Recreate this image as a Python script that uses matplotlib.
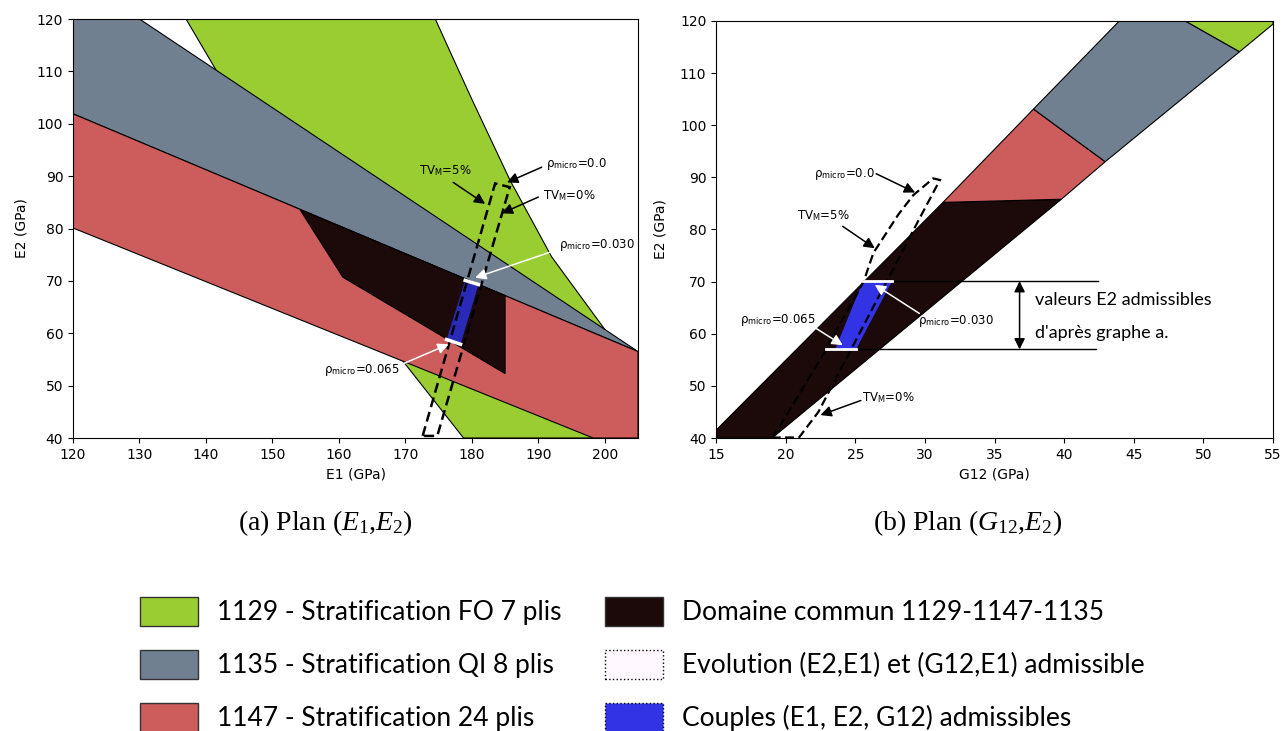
import matplotlib
matplotlib.use('Agg')
import matplotlib.pyplot as plt
from matplotlib.patches import Polygon, Patch

plt.rcParams['font.family'] = 'DejaVu Sans'
plt.rcParams['mathtext.fontset'] = 'custom'
plt.rcParams['mathtext.rm'] = 'Liberation Serif'
plt.rcParams['mathtext.it'] = 'Liberation Serif:italic'
plt.rcParams['mathtext.sf'] = 'DejaVu Sans'

GREEN = '#9ACD32'
GRAY = '#708090'
RED = '#CD5C5C'
DARK = '#1C0909'
BLUE_A = '#2A2AB8'
BLUE_B = '#3333E6'

# ---- plan (E1, E2) ----
green_a = [(137, 120), (141.4, 110.5), (150, 92), (160, 73), (169.5, 54.9), (178.75, 40),
           (205, 40), (205, 52), (199.5, 61.6), (192, 74.6), (185.75, 89.2),
           (180.1, 104.4), (177, 113), (174.5, 120)]
gray_a = [(120, 120), (130, 120), (205, 56.5), (120, 101.9)]
red_a = [(120, 101.9), (205, 56.5), (205, 40), (198.25, 40), (120, 80.1)]
dark_a = [(154.15, 83.6), (160.6, 70.7), (185, 52.3), (185, 67.2)]
blue_a = [(176.2, 58.8), (179.0, 70.1), (181.0, 69.3), (178.3, 57.9)]
white_a = [[(179.0, 70.1), (181.0, 69.3)], [(176.2, 58.8), (178.3, 57.9)]]
dash_a = [(172.6, 40.4), (183.5, 88.6), (185.7, 87.9), (174.8, 40.4)]

# text, text position, arrow tail, arrow tip, arrow colour
notes_a = [
    ('TV$_\\mathsf{M}$=5%', (176.0, 91.0), (177.2, 88.8), (182.0, 84.7), 'k'),
    ('ρ$_\\mathsf{micro}$=0.0', (195.8, 92.4), (190.5, 91.7), (185.3, 88.8), 'k'),
    ('TV$_\\mathsf{M}$=0%', (194.6, 86.3), (190.0, 86.0), (184.5, 82.9), 'k'),
    ('ρ$_\\mathsf{micro}$=0.030', (198.8, 76.8), (191.8, 75.5), (180.5, 70.6), 'w'),
    ('ρ$_\\mathsf{micro}$=0.065', (163.5, 53.0), (169.7, 54.2), (176.5, 57.9), 'w'),
]

# ---- plan (G12, E2) ----
dark_b = [(15, 40), (15, 41.5), (31.3, 85.2), (39.8, 85.8), (19.03, 40)]
red_b = [(31.3, 85.2), (37.8, 103.1), (42.95, 93.0), (39.8, 85.8)]
gray_b = [(37.8, 103.1), (43.96, 120), (48.7, 120), (52.6, 114.1), (42.95, 93.0)]
green_b = [(48.7, 120), (55, 120), (55, 119.4), (52.6, 114.1)]
blue_b = [(23.55, 57.0), (25.56, 70.1), (27.64, 70.1), (25.05, 57.0)]
white_b = [[(25.56, 70.1), (27.64, 70.1)], [(22.9, 57.0), (25.05, 57.0)]]
hlines_b = [(70.1, 27.64, 42.4), (57.0, 25.05, 42.3)]
dash_b = [(19.0, 40.1), (20.96, 40.1), (22.35, 45.0), (29.65, 82.3), (31.08, 89.5),
          (30.6, 89.8), (29.17, 86.6), (28.1, 82.9), (26.3, 75.5), (25.6, 70.0),
          (22.8, 56.5), (19.36, 41.3)]
notes_b = [
    ('ρ$_\\mathsf{micro}$=0.0', (24.2, 90.7), (26.5, 90.7), (29.3, 87.1), 'k'),
    ('TV$_\\mathsf{M}$=5%', (22.7, 82.6), (24.1, 80.6), (26.4, 76.4), 'k'),
    ('ρ$_\\mathsf{micro}$=0.065', (19.4, 62.6), (22.2, 61.0), (24.1, 57.8), 'w'),
    ('ρ$_\\mathsf{micro}$=0.030', (32.2, 62.5), (29.6, 63.9), (26.4, 69.4), 'w'),
    ('TV$_\\mathsf{M}$=0%', (27.4, 47.8), (25.4, 47.2), (22.5, 44.4), 'k'),
]

legend_labels = ['1129 - Stratification FO 7 plis', '1135 - Stratification QI 8 plis',
                 '1147 - Stratification 24 plis', 'Domaine commun 1129-1147-1135',
                 'Evolution (E2,E1) et (G12,E1) admissible', 'Couples (E1, E2, G12) admissibles']

fig = plt.figure(figsize=(12.83, 7.31), dpi=100)
ax1 = fig.add_axes([0.0569, 0.4008, 0.4404, 0.5732])
ax2 = fig.add_axes([0.5581, 0.4008, 0.4341, 0.5705])


def fill(ax, pts, color, lw=0.8):
    ax.add_patch(Polygon(pts, closed=True, facecolor=color, edgecolor='k', lw=lw))


def notes(ax, items):
    for txt, pos, tail, tip, col in items:
        ax.text(pos[0], pos[1], txt, fontsize=8.5, ha='center', va='center')
        ax.annotate('', xy=tip, xytext=tail,
                    arrowprops=dict(arrowstyle='-|>', color=col, lw=1.1, mutation_scale=16,
                                    shrinkA=0, shrinkB=0))


fill(ax1, green_a, GREEN)
fill(ax1, gray_a, GRAY)
fill(ax1, red_a, RED)
fill(ax1, dark_a, DARK)
fill(ax1, blue_a, BLUE_A, lw=0)
for seg in white_a:
    ax1.plot([seg[0][0], seg[1][0]], [seg[0][1], seg[1][1]], color='w', lw=2.5)
ax1.add_patch(Polygon(dash_a, closed=True, fill=False, edgecolor='k', lw=1.8, ls=(0, (4, 2))))
notes(ax1, notes_a)
ax1.set_xlim(120, 205)
ax1.set_ylim(40, 120)
ax1.set_xticks(range(120, 201, 10))
ax1.set_xlabel('E1 (GPa)', fontsize=10)
ax1.set_ylabel('E2 (GPa)', fontsize=10, labelpad=6)

fill(ax2, dark_b, DARK)
fill(ax2, red_b, RED)
fill(ax2, gray_b, GRAY)
fill(ax2, green_b, GREEN)
fill(ax2, blue_b, BLUE_B, lw=0)
for y, x0, x1 in hlines_b:
    ax2.plot([x0, x1], [y, y], color='k', lw=1)
for seg in white_b:
    ax2.plot([seg[0][0], seg[1][0]], [seg[0][1], seg[1][1]], color='w', lw=2)
ax2.add_patch(Polygon(dash_b, closed=True, fill=False, edgecolor='k', lw=1.6, ls=(0, (4, 2))))
notes(ax2, notes_b)
ax2.annotate('', xy=(36.8, 70.1), xytext=(36.8, 57.0),
             arrowprops=dict(arrowstyle='<|-|>', color='k', lw=1.1, mutation_scale=16,
                             shrinkA=0, shrinkB=0))
ax2.text(37.9, 66.5, 'valeurs E2 admissibles', fontsize=13, family='Lato', va='center')
ax2.text(37.9, 60.2, "d'après graphe a.", fontsize=13, family='Lato', va='center')
ax2.set_xlim(15, 55)
ax2.set_ylim(40, 120)
ax2.set_xlabel('G12 (GPa)', fontsize=10)
ax2.set_ylabel('E2 (GPa)', fontsize=10, labelpad=9)

for ax in (ax1, ax2):
    ax.tick_params(labelsize=10)

fig.text(0.2533, 0.2845, '(a) Plan ($E_1$,$E_2$)', family='Liberation Serif', fontsize=20,
         ha='center', va='center')
fig.text(0.7545, 0.2845, '(b) Plan ($G_{12}$,$E_2$)', family='Liberation Serif', fontsize=20,
         ha='center', va='center')

h1 = [Patch(facecolor=GREEN, edgecolor='#333333', lw=1),
      Patch(facecolor=GRAY, edgecolor='#333333', lw=1),
      Patch(facecolor=RED, edgecolor='#333333', lw=1)]
h2 = [Patch(facecolor=DARK, edgecolor='#333333', lw=1),
      Patch(facecolor='#FFF8FF', edgecolor='k', lw=1, ls=':'),
      Patch(facecolor=BLUE_B, edgecolor='k', lw=1, ls=':')]
leg_kw = dict(loc='upper left', frameon=False, borderpad=0, borderaxespad=0,
              handlelength=2.2, handleheight=1.3, handletextpad=0.7, labelspacing=0.92,
              prop={'family': 'Lato', 'size': 19})
leg1 = fig.legend(h1, legend_labels[:3], bbox_to_anchor=(140 / 1283, 1 - 597 / 731), **leg_kw)
leg2 = fig.legend(h2, legend_labels[3:], bbox_to_anchor=(605 / 1283, 1 - 597 / 731), **leg_kw)

fig.savefig('out.png', dpi=100)
